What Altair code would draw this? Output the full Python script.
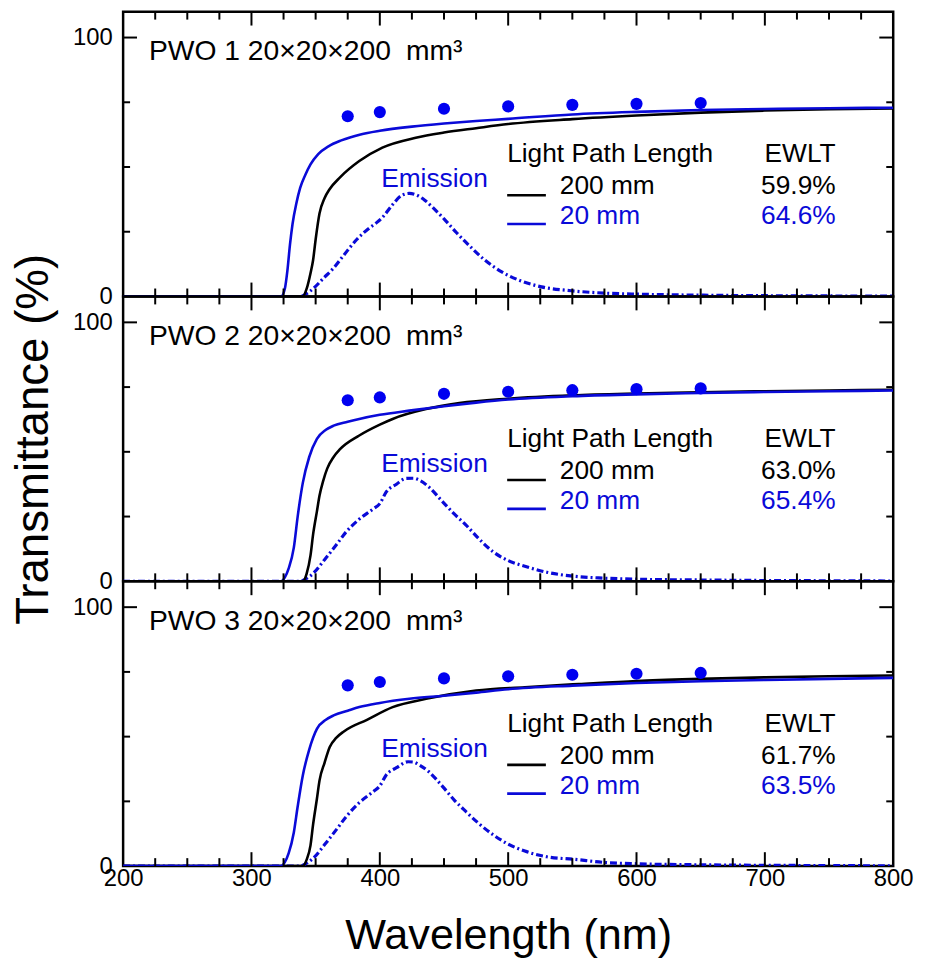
import altair as alt
import pandas as pd

FONT = "Liberation Sans"
BLUE = "#0a0ad8"
DOT_BLUE = "#0000f0"

# ---------------- data ----------------
panel_names = ["PWO 1", "PWO 2", "PWO 3"]
size_text = "20×20×200"
size_unit = "mm³"
ewlt_200 = ["59.9%", "63.0%", "61.7%"]
ewlt_20 = ["64.6%", "65.4%", "63.5%"]

x_tick_labels = [200, 300, 400, 500, 600, 700, 800]
x_major_ticks = [300, 400, 500, 600, 700]
x_minor_ticks = [225, 250, 275, 325, 350, 375, 425, 450, 475, 525, 550, 575,
                 625, 650, 675, 725, 750, 775]
y_tick_labels = [0, 100]
y_major_ticks = [100]
y_minor_ticks = [25, 50, 75]

dot_wl = [375, 400, 450, 500, 550, 600, 650]
dot_t = [
    [69.6, 71.2, 72.5, 73.4, 74.0, 74.4, 74.7],
    [69.9, 71.0, 72.4, 73.2, 73.8, 74.2, 74.5],
    [69.8, 71.1, 72.5, 73.3, 73.9, 74.3, 74.6],
]

# 20 mm light path (blue solid)
t20_wl = [
    [200, 323, 326, 328, 330, 332, 335, 338, 342, 346, 352, 360, 370, 385, 400,
     425, 450, 475, 500, 550, 600, 650, 700, 750, 800],
    [200, 323, 326, 329, 333, 336, 340, 345, 351, 358, 364, 375, 384, 400, 423,
     450, 475, 500, 550, 600, 650, 700, 750, 800],
    [200, 323, 326, 329, 333, 336, 340, 345, 351, 358, 364, 375, 384, 400, 423,
     450, 475, 500, 550, 600, 650, 700, 750, 800],
]
t20_t = [
    [0, 0, 3, 10, 20, 28, 36, 42, 47, 51, 55, 58, 60.3, 62.6, 64,
     65.6, 66.8, 67.8, 68.6, 70.3, 71.3, 72.0, 72.4, 72.7, 72.9],
    [0, 0, 1.5, 5, 13, 25, 38, 48, 55, 58.5, 60.1, 61.6, 62.7, 64.3, 65.9,
     67.6, 69.0, 70.2, 71.5, 72.2, 72.7, 73.1, 73.4, 73.7],
    [0, 0, 1.5, 5, 13, 23, 35, 45, 53, 56.5, 58.2, 60.0, 61.4, 63.0, 64.6,
     65.8, 67.0, 68.3, 69.7, 70.7, 71.4, 71.9, 72.3, 72.7],
]

# 200 mm light path (black solid)
t200_wl = [
    [200, 340, 343, 346, 348, 350, 353, 357, 361, 369, 384, 402, 428, 450, 475,
     500, 550, 600, 650, 700, 750, 800],
    [200, 340, 343, 346, 348, 351, 353, 356, 359, 364, 369, 384, 400, 410, 436,
     462, 500, 550, 600, 650, 700, 750, 800],
    [200, 340, 343, 346, 348, 351, 353, 357, 361, 366, 372, 390, 410, 436, 475,
     513, 555, 600, 650, 700, 750, 800],
]
t200_t = [
    [0, 0, 3, 9, 14, 22, 32, 38, 41.5, 46, 52.3, 57.5, 61.3, 63.3, 65,
     66.6, 68.5, 69.9, 71.0, 71.8, 72.3, 72.6],
    [0, 0, 3, 10, 18, 27, 33, 39, 43.5, 48, 51, 56.3, 60.5, 62.7, 66.5,
     68.8, 70.5, 71.8, 72.5, 73.0, 73.4, 73.7, 74.0],
    [0, 0, 2.5, 8, 16, 26, 33, 40, 46, 49.5, 52, 56.5, 61.4, 64.6, 67.8,
     69.1, 70.3, 71.5, 72.3, 72.9, 73.3, 73.6],
]

# emission spectrum (blue dashed)
em_wl = [
    [200, 300, 338, 342, 348, 356, 364, 372, 382, 392, 398, 402, 410, 417, 423,
     428, 435, 442, 450, 460, 470, 482, 495, 510, 526, 549, 575, 600, 650, 700,
     750, 800],
    [200, 300, 338, 342, 348, 358, 366, 374, 384, 395, 400, 405, 413, 420, 426,
     431, 438, 449, 458, 467, 477, 488, 500, 513, 530, 552, 575, 600, 650, 700,
     750, 800],
    [200, 300, 338, 342, 348, 358, 366, 374, 384, 395, 400, 405, 413, 422, 426,
     431, 438, 449, 458, 467, 477, 488, 500, 513, 530, 552, 575, 600, 650, 700,
     750, 800],
]
em_t = [
    [0, 0, 0, 0.8, 3, 7, 11, 16, 22, 26.5, 28.7, 30.5, 35.5, 39, 39.8,
     39.3, 37.2, 34, 30, 24.5, 19.5, 14, 9.5, 6, 3.7, 2.2, 1.3, 0.9, 0.5, 0.3,
     0.2, 0.1],
    [0, 0, 0, 0.8, 3, 9, 14, 19.2, 24, 28, 30, 34.5, 37.5, 39.7, 39.8,
     39, 36.5, 30.7, 26, 21.8, 16.5, 11.5, 8, 5.8, 3.5, 1.9, 1.2, 0.8, 0.5, 0.3,
     0.2, 0.1],
    [0, 0, 0, 0.8, 3, 8.9, 14, 19.2, 24.5, 28.8, 31, 35.2, 38, 40.3, 40.2,
     39, 36.5, 30.7, 25.5, 21.1, 16.5, 12.2, 8.5, 5.8, 3.6, 2.6, 1.4, 0.9, 0.5, 0.3,
     0.2, 0.1],
]

# ---------------- layout constants ----------------
W, H = 776, 287
XS = alt.Scale(domain=[200, 800], nice=False, zero=False)
YS = alt.Scale(domain=[0, 110], nice=False, zero=False)


def x_axis(show):
    if not show:
        return None
    return alt.Axis(values=x_tick_labels, format="d", labelFontSize=24, labelFont=FONT,
                    labelColor="black", ticks=False, domain=False, grid=False,
                    labelPadding=1, labelFlush=False, labelOverlap=False,
                    title="Wavelength (nm)", titleFontSize=43.5, titleFont=FONT,
                    titleFontWeight="normal", titleColor="black", titlePadding=24)


def y_axis(show_title):
    return alt.Axis(values=y_tick_labels, format="d", labelFontSize=24, labelFont=FONT,
                    labelColor="black", ticks=False, domain=False, grid=False,
                    labelPadding=11, labelFlush=False, labelOverlap=False,
                    title="Transmittance (%)" if show_title else None,
                    titleFontSize=46, titleFont=FONT, titleFontWeight="normal",
                    titleColor="black", titlePadding=15)


def panel(i, show_x, show_ytitle):
    X = alt.X("x:Q", scale=XS, axis=x_axis(show_x))
    Y = alt.Y("y:Q", scale=YS, axis=y_axis(show_ytitle))

    em = pd.DataFrame({"x": em_wl[i], "y": em_t[i]})
    d200 = pd.DataFrame({"x": t200_wl[i], "y": t200_t[i]})
    d20 = pd.DataFrame({"x": t20_wl[i], "y": t20_t[i]})
    dots = pd.DataFrame({"x": dot_wl, "y": dot_t[i]})

    layers = []
    layers.append(alt.Chart(em).mark_line(color=BLUE, strokeWidth=3.2,
                                          strokeDash=[7, 3, 2, 3],
                                          interpolate="monotone", clip=True)
                  .encode(x=X, y=Y))
    layers.append(alt.Chart(d200).mark_line(color="black", strokeWidth=2.6,
                                            interpolate="monotone", clip=True)
                  .encode(x=X, y=Y))
    layers.append(alt.Chart(d20).mark_line(color=BLUE, strokeWidth=2.6,
                                           interpolate="monotone", clip=True)
                  .encode(x=X, y=Y))
    layers.append(alt.Chart(dots).mark_circle(color=DOT_BLUE, size=150, opacity=1)
                  .encode(x=X, y=Y))

    # inward ticks
    def xticks(vals, ln):
        df = pd.DataFrame({"x": vals})
        top = alt.Chart(df).mark_rule(color="black", strokeWidth=2).encode(
            x=X, y=alt.value(0), y2=alt.value(ln))
        bot = alt.Chart(df).mark_rule(color="black", strokeWidth=2).encode(
            x=X, y=alt.value(H), y2=alt.value(H - ln))
        return [top, bot]

    def yticks(vals, ln):
        df = pd.DataFrame({"y": vals})
        left = alt.Chart(df).mark_rule(color="black", strokeWidth=2).encode(
            y=Y, x=alt.value(0), x2=alt.value(ln))
        right = alt.Chart(df).mark_rule(color="black", strokeWidth=2).encode(
            y=Y, x=alt.value(W), x2=alt.value(W - ln))
        return [left, right]

    layers += xticks(x_major_ticks, 14)
    layers += xticks(x_minor_ticks, 8)
    layers += yticks(y_major_ticks, 14)
    layers += yticks(y_minor_ticks, 7)

    def txt(s, px, py, color="black", size=26.5, align="left"):
        return alt.Chart(pd.DataFrame({"t": [s]})).mark_text(
            font=FONT, fontSize=size, color=color, align=align,
            baseline="alphabetic").encode(
            text="t:N", x=alt.value(px), y=alt.value(py))

    layers.append(txt(f"{panel_names[i]} {size_text}", 26, 49, size=28.5))
    layers.append(txt(size_unit, 285, 49, size=28.5))
    layers.append(txt("Emission", 260, 177, color=BLUE))
    layers.append(txt("Light Path Length", 387, 152))
    layers.append(txt("EWLT", 718, 152, align="right"))
    layers.append(txt("200 mm", 440, 184))
    layers.append(txt("20 mm", 440, 214, color=BLUE))
    layers.append(txt(ewlt_200[i], 718, 184, align="right"))
    layers.append(txt(ewlt_20[i], 718, 214, color=BLUE, align="right"))

    leg = pd.DataFrame({"t": [0]})
    layers.append(alt.Chart(leg).mark_rule(color="black", strokeWidth=2.6).encode(
        x=alt.value(387), x2=alt.value(426), y=alt.value(185)))
    layers.append(alt.Chart(leg).mark_rule(color=BLUE, strokeWidth=2.6).encode(
        x=alt.value(387), x2=alt.value(426), y=alt.value(214)))

    return alt.layer(*layers).properties(width=W, height=H)


chart = alt.vconcat(
    panel(0, False, False),
    panel(1, False, True),
    panel(2, True, False),
    spacing=0,
    bounds="flush",
).properties(
    padding={"left": 1, "top": -3, "right": 5, "bottom": 5}
).configure_view(
    stroke="black", strokeWidth=2.5
)

chart.save("out.html", embed_options={"renderer": "svg", "actions": False})
